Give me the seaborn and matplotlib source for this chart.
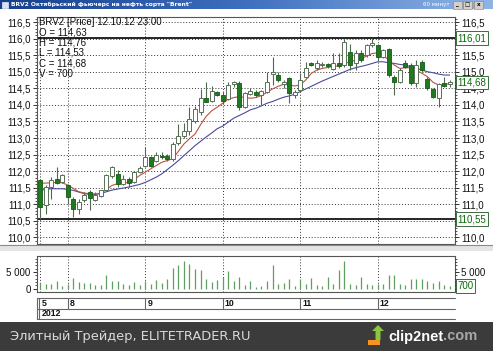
import numpy as np
import pandas as pd
import matplotlib
matplotlib.use("Agg")
import matplotlib.pyplot as plt
import seaborn as sns
from matplotlib.ticker import FuncFormatter, MultipleLocator, FixedLocator
from matplotlib.patches import Rectangle, Polygon
from matplotlib.lines import Line2D
from matplotlib.colors import LinearSegmentedColormap
import matplotlib.transforms as mtrans

# ---------------- data ----------------
opens = [111.74, 110.97, 111.52, 111.77, 111.67, 111.57, 111.17, 110.87, 111.12, 111.37, 111.14, 111.24, 111.42, 111.84, 111.92, 111.62, 111.77, 111.67, 111.97,
         112.17, 112.42, 112.30, 112.47, 112.47, 112.37, 112.85, 113.07, 113.22, 113.50, 113.80, 114.20, 114.13, 114.40,
         114.30, 114.18, 114.62, 114.67, 113.95, 114.32, 114.40, 114.30, 114.40, 114.93, 114.90, 114.62, 114.80, 114.30,
         114.45, 114.85, 115.25, 115.10, 115.20, 115.22, 115.07, 115.25, 115.20, 115.60, 115.25, 115.57, 115.50, 115.80,
         115.80, 115.45, 115.70, 114.85, 114.70, 115.25, 115.20, 114.65, 115.30, 114.77, 114.47, 114.20, 114.67, 114.63]
closes = [110.92, 111.52, 111.72, 111.64, 111.87, 111.22, 110.87, 111.07, 111.27, 111.20, 111.27, 111.42, 111.87, 112.12, 111.60, 111.77, 111.64, 111.97, 112.10,
          112.42, 112.17, 112.50, 112.42, 112.37, 112.82, 113.07, 113.22, 113.56, 113.88, 114.21, 114.10, 114.41, 114.30,
          114.13, 114.60, 114.68, 113.95, 114.35, 114.42, 114.30, 114.42, 114.68, 114.98, 114.75, 114.68, 114.35, 114.40,
          114.75, 115.10, 115.20, 115.25, 115.22, 115.17, 115.27, 115.17, 115.90, 115.20, 115.57, 115.35, 115.80, 115.87,
          115.45, 115.65, 114.90, 114.70, 115.05, 115.15, 114.67, 115.20, 115.05, 114.50, 114.25, 114.63, 114.57, 114.68]
highs = [111.77, 111.57, 111.82, 112.12, 111.90, 111.62, 111.22, 111.17, 111.37, 111.44, 111.37, 111.44, 111.92, 112.17, 112.04, 111.87, 111.82, 112.02, 112.17,
         112.72, 112.47, 112.57, 112.57, 112.52, 112.87, 113.42, 113.45, 113.93, 113.98, 114.48, 114.68, 114.58, 114.43,
         114.43, 114.68, 114.72, 114.72, 114.40, 114.50, 114.45, 114.45, 114.98, 115.45, 115.00, 114.75, 114.85, 114.45,
         114.95, 115.30, 115.30, 115.35, 115.28, 115.25, 115.55, 115.57, 115.98, 115.85, 115.65, 115.65, 115.85, 116.01,
         115.85, 115.70, 115.73, 114.90, 115.10, 115.35, 115.25, 115.35, 115.35, 114.85, 114.50, 114.67, 114.85, 114.76]
lows = [110.55, 110.72, 111.17, 111.62, 111.64, 111.00, 110.62, 110.72, 111.07, 110.82, 111.10, 111.22, 111.40, 111.80, 111.52, 111.57, 111.52, 111.64, 111.94,
        112.14, 112.14, 112.27, 112.37, 112.32, 112.32, 112.78, 113.00, 113.10, 113.45, 113.70, 114.08, 114.10, 114.28,
        114.03, 114.15, 114.55, 113.85, 113.90, 114.30, 114.25, 114.00, 114.35, 114.60, 114.70, 114.50, 114.05, 114.20,
        114.40, 114.80, 115.17, 115.05, 115.15, 115.12, 115.05, 115.10, 115.15, 115.05, 115.05, 115.30, 115.45, 115.75,
        115.35, 115.40, 114.85, 114.30, 114.65, 115.10, 114.60, 114.55, 115.00, 114.45, 114.20, 113.95, 114.55, 114.53]
volumes = [1800, 1500, 1500, 2200, 750, 1300, 3100, 1900, 1700, 1700, 950, 1100, 4000, 2350, 2350, 1400, 1200, 1900, 950,
           2200, 1300, 2600, 1800, 2800, 6100, 7200, 8300, 7300, 6000, 5600, 3000, 2000, 2500,
           3500, 5400, 2200, 3600, 1200, 2200, 600, 900, 2200, 7200, 1500, 1800, 3000, 900,
           3000, 1500, 3200, 1200, 900, 3500, 1500, 5500, 8200, 1300, 1000, 3500, 1500, 1200,
           1500, 1500, 4200, 4200, 1500, 1200, 2800, 2800, 2800, 2300, 1800, 2300, 1000, 700]
ma_fast = [111.64, 111.64, 111.65, 111.66, 111.65, 111.58, 111.48, 111.38, 111.34, 111.32, 111.31, 111.33, 111.45, 111.57, 111.62, 111.64, 111.66, 111.75, 111.87,
           111.97, 112.07, 112.17, 112.27, 112.32, 112.38, 112.60, 112.82, 112.98, 113.12, 113.40, 113.65, 113.82, 113.93,
           114.05, 114.17, 114.22, 114.25, 114.22, 114.20, 114.22, 114.28, 114.38, 114.48, 114.56, 114.62, 114.60, 114.57,
           114.60, 114.75, 114.95, 115.05, 115.10, 115.13, 115.16, 115.18, 115.25, 115.30, 115.35, 115.40, 115.47, 115.55,
           115.57, 115.50, 115.35, 115.20, 115.10, 115.12, 115.12, 115.05, 114.95, 114.85, 114.68, 114.60, 114.60, 114.65]
ma_slow = [111.42, 111.45, 111.47, 111.47, 111.47, 111.45, 111.42, 111.37, 111.32, 111.30, 111.30, 111.33, 111.38, 111.43, 111.46, 111.49, 111.52, 111.56, 111.60,
           111.66, 111.74, 111.82, 111.92, 112.05, 112.18, 112.32, 112.47, 112.62, 112.77, 112.90, 113.03, 113.15, 113.28,
           113.36, 113.48, 113.60, 113.68, 113.76, 113.85, 113.90, 113.97, 114.05, 114.10, 114.17, 114.23, 114.27, 114.32,
           114.40, 114.48, 114.56, 114.64, 114.72, 114.79, 114.86, 114.93, 115.00, 115.07, 115.12, 115.16, 115.20, 115.25,
           115.30, 115.30, 115.27, 115.25, 115.22, 115.20, 115.15, 115.10, 115.05, 115.00, 114.97, 114.93, 114.90, 114.90]
day_starts = [0, 5, 19, 33, 47, 61]
day_labels = ["5", "8", "9", "10", "11", "12"]
year_label = "2012"
range_high = 116.01
range_low = 110.55
last_close = 114.68
last_volume = 700
legend_lines = ["BRV2 [Price] 12.10.12 23:00", "O = 114,63", "H = 114,76", "L = 114,53", "C = 114,68", "V = 700"]
title_text = 'BRV2 Октябрьский фьючерс на нефть сорта "Brent"'
period_text = "60 минут"
footer_text = "Элитный Трейдер, ELITETRADER.RU"

df = pd.DataFrame({"i": np.arange(len(opens)), "o": opens, "h": highs, "l": lows, "c": closes,
                   "v": volumes, "maf": ma_fast, "mas": ma_slow})

# ---------------- style ----------------
sns.set_theme(style="white")
plt.rcParams["font.family"] = ["Liberation Sans", "DejaVu Sans"]

W, H = 493, 351
fig = plt.figure(figsize=(W / 100, H / 100), dpi=100, facecolor="white")


def fx(x):
    return x / W


def fy(y):
    return 1 - y / H


def axes_px(l, t, r, b, **kw):
    return fig.add_axes([fx(l), fy(b), (r - l) / W, (b - t) / H], **kw)


XL = (-0.55, 74.97)
grid_kw = dict(color="#333333", lw=0.7, ls=(0, (1, 2)))
spine_c = "#555555"


def price_fmt(hidden=()):
    def f(v, p):
        if any(abs(v - h) < 1e-6 for h in hidden):
            return ""
        return f"{v:.1f}".replace(".", ",")
    return FuncFormatter(f)


def style_y(a, left=True, right=False):
    a.tick_params(axis="y", which="both", left=left, right=right, labelleft=left, labelright=right,
                  direction="out", labelsize=7, pad=1.5, colors="#111111")
    a.tick_params(axis="y", which="major", length=3, width=0.6)
    a.tick_params(axis="y", which="minor", length=1.5, width=0.5)


# ---------------- main price panel ----------------
YL = (109.803, 116.666)
ax = axes_px(37, 16.5, 455, 244)
ax.set_facecolor("white")
ax.set_xlim(*XL)
ax.set_ylim(*YL)
ax.yaxis.set_major_locator(MultipleLocator(0.5))
ax.yaxis.set_minor_locator(MultipleLocator(0.1))
ax.yaxis.set_major_formatter(price_fmt())
ax.set_xticks(day_starts)
ax.tick_params(axis="x", length=0, labelbottom=False)
style_y(ax, left=True, right=False)
ax.grid(True, which="major", **grid_kw)
for s in ax.spines.values():
    s.set_color(spine_c)
    s.set_linewidth(0.8)

axr = ax.twinx()
axr.set_ylim(*YL)
axr.yaxis.set_major_locator(MultipleLocator(0.5))
axr.yaxis.set_minor_locator(MultipleLocator(0.1))
axr.yaxis.set_major_formatter(price_fmt(hidden=(116.0, 110.5)))
style_y(axr, left=False, right=True)
axr.grid(False)
for s in axr.spines.values():
    s.set_visible(False)

ax.axhline(range_high, color="black", lw=1.2, zorder=2)
ax.axhline(range_low, color="black", lw=1.2, zorder=2)

sns.lineplot(data=df, x="i", y="mas", ax=ax, color="#4a4a9a", lw=0.8, legend=False, zorder=3)
sns.lineplot(data=df, x="i", y="maf", ax=ax, color="#b8553f", lw=0.8, legend=False, zorder=3)
ax.set_xlabel("")
ax.set_ylabel("")

up = df[df.c >= df.o]
dn = df[df.c < df.o]
ax.vlines(df.i, df.l, df.h, color="#4f6a4f", lw=0.8, zorder=4)
ax.bar(up.i, (up.c - up.o).clip(lower=0.015), bottom=up.o, width=0.72, color="white",
       edgecolor="#5a6f5a", linewidth=0.7, zorder=5)
ax.bar(dn.i, (dn.o - dn.c), bottom=dn.c, width=0.72, color="#1f7a1f",
       edgecolor="#145a14", linewidth=0.6, zorder=5)

trans = mtrans.blended_transform_factory(ax.transAxes, ax.transData)
box = dict(boxstyle="square,pad=0.18", fc="white", ec="#3d6b3d", lw=0.7)
for val in (range_high, range_low, last_close):
    axr.text(1.006, val, f"{val:.2f}".replace(".", ","), transform=trans, ha="left", va="center",
             fontsize=7, color="#0a6a0a", bbox=box, clip_on=False, zorder=10)

for k, line in enumerate(legend_lines):
    fig.text(fx(39), fy(21.7 + 10.4 * k), line, fontsize=7, color="#111111", va="center", ha="left")

# ---------------- volume panel ----------------
VL = (-1060, 9850)
vol_fmt = FuncFormatter(lambda v, p: "0" if v == 0 else f"{int(v):,}".replace(",", " "))
av = axes_px(37, 256, 455, 292)
av.set_facecolor("white")
av.set_xlim(*XL)
av.set_ylim(*VL)
av.vlines(df.i, 0, df.v, color="#5f9f5f", lw=0.9)
av.set_xticks(day_starts)
av.tick_params(axis="x", length=0, labelbottom=False)
av.yaxis.set_major_locator(FixedLocator([0, 5000]))
av.yaxis.set_minor_locator(FixedLocator(list(range(0, 9001, 1000))))
av.yaxis.set_major_formatter(vol_fmt)
style_y(av, left=True, right=False)
av.grid(True, axis="x", **grid_kw)
for s in av.spines.values():
    s.set_color(spine_c)
    s.set_linewidth(0.8)

avr = av.twinx()
avr.set_ylim(*VL)
avr.yaxis.set_major_locator(FixedLocator([0, 5000]))
avr.yaxis.set_minor_locator(FixedLocator(list(range(0, 9001, 1000))))
avr.yaxis.set_major_formatter(FuncFormatter(lambda v, p: "" if v == 0 else f"{int(v):,}".replace(",", " ")))
style_y(avr, left=False, right=True)
avr.grid(False)
for s in avr.spines.values():
    s.set_visible(False)
tv = mtrans.blended_transform_factory(av.transAxes, av.transData)
avr.text(1.006, last_volume, str(last_volume), transform=tv, ha="left", va="center",
         fontsize=7, color="#0a6a0a", bbox=box, clip_on=False)

# ---------------- date axis ----------------
ad = axes_px(37, 298, 455, 319)
ad.set_xlim(*XL)
ad.set_ylim(0, 2)
ad.axis("off")
lc = "#666666"
for yy in (2, 1, 0):
    ad.plot(XL, [yy, yy], color=lc, lw=0.8, clip_on=False)
ad.plot([XL[0], XL[0]], [0, 2], color=lc, lw=0.8, clip_on=False)
ad.plot([-0.1, -0.1], [0, 2], color=lc, lw=0.8, clip_on=False)
for pos, lab in zip(day_starts, day_labels):
    if pos > 0:
        ad.plot([pos, pos], [1, 2], color=lc, lw=0.8)
    ad.text(pos + 0.4, 1.5, lab, fontsize=6.3, fontweight="bold", ha="left", va="center", color="#111111")
ad.text(0.3, 0.5, year_label, fontsize=6.3, fontweight="bold", ha="left", va="center", color="#111111")

# ---------------- panel separators ----------------
fig.add_artist(Rectangle((0, fy(251)), 1, (251 - 245.5) / H, transform=fig.transFigure,
                         fc="#E4E4E4", ec="none"))
fig.add_artist(Line2D([0, 1], [fy(245), fy(245)], transform=fig.transFigure, color="#8a8a8a", lw=0.8))

# ---------------- title bar ----------------
at = axes_px(0, 0, 493, 9.5)
grad = np.linspace(0, 1, 256).reshape(1, -1)
cm = LinearSegmentedColormap.from_list("tb", ["#163f8f", "#3f6fbf", "#8fb4e6"])
at.imshow(grad, aspect="auto", cmap=cm, extent=(0, 1, 0, 1))
at.set_xlim(0, 1)
at.set_ylim(0, 1)
at.axis("off")
fig.add_artist(Rectangle((fx(2), fy(8)), 6 / W, 6 / H, transform=fig.transFigure, fc="#d8e4f4", ec="#ffffff", lw=0.4))
fig.text(fx(11), fy(4.8), title_text, fontsize=4.3, fontweight="bold", color="white", va="center", ha="left",
         family=["DejaVu Sans"])
fig.text(fx(450), fy(4.8), period_text, fontsize=4.0, color="white", va="center", ha="right", family=["DejaVu Sans"])
for bx, g in ((453, "_"), (463, "□"), (474, "x")):
    fig.add_artist(Rectangle((fx(bx), fy(8.5)), 9 / W, 7.5 / H, transform=fig.transFigure,
                             fc="#d4d0c8", ec="#808080", lw=0.4))
    fig.text(fx(bx + 4.5), fy(4.8), g, fontsize=4.0, color="black", va="center", ha="center",
             family=["DejaVu Sans"], fontweight="bold")

# ---------------- footer ----------------
fig.add_artist(Rectangle((0, 0), 1, (351 - 322) / H, transform=fig.transFigure, fc="#3b3b3b", ec="none"))
fig.text(fx(10), fy(336.5), footer_text, fontsize=9.4, color="#d9d9d9", va="center", ha="left",
         family=["DejaVu Sans"])
# clip2net logo
fig.add_artist(Polygon([[fx(372), fy(331)], [fx(378), fy(325)], [fx(384), fy(331)], [fx(380.5), fy(331)],
                        [fx(380.5), fy(340)], [fx(375.5), fy(340)], [fx(375.5), fy(331)]],
                       closed=True, transform=fig.transFigure, fc="#8cc63f", ec="none"))
fig.add_artist(Rectangle((fx(368), fy(345)), 12 / W, 5 / H, transform=fig.transFigure, fc="#f7941d", ec="none"))
t1 = fig.text(fx(388), fy(336.5), "clip2net", fontsize=10.5, fontweight="bold", color="white",
              va="center", ha="left", family=["Liberation Sans", "DejaVu Sans"])
fig.canvas.draw()
bb = t1.get_window_extent()
fig.text(bb.x1 / W, fy(336.5), ".com", fontsize=10.5, fontweight="bold", color="#a8a8a8",
         va="center", ha="left", family=["Liberation Sans", "DejaVu Sans"])

fig.savefig("out.png", dpi=100, facecolor=fig.get_facecolor())
